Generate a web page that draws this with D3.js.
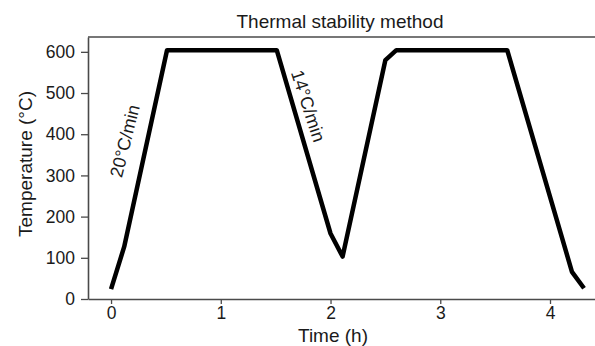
<!DOCTYPE html>
<html>
<head>
<meta charset="utf-8">
<script src="https://cdn.jsdelivr.net/npm/d3@7"></script>
<style>
  body { margin: 0; background: #fff; }
  text { font-family: "Liberation Sans", Arial, sans-serif; fill: #1a1a1a; }
</style>
</head>
<body>
<svg id="chart" width="595" height="346"></svg>
<script>
// time (h) and temperature (°C) of the heating program
var times = [0, 0.12, 0.51, 1.51, 2.0, 2.11, 2.5, 2.6, 3.61, 4.2, 4.31];
var temps = [24, 127, 604, 604, 159, 103, 580, 604, 604, 66, 26];
var xTicks = [0, 1, 2, 3, 4];
var yTicks = [0, 100, 200, 300, 400, 500, 600];

var svg = d3.select("#chart"),
	margin = {top: 37, right: 0, bottom: 47, left: 88},
	width = +svg.attr("width") - margin.left - margin.right,
	height = +svg.attr("height") - margin.top - margin.bottom;

var x = d3.scaleLinear().domain([-0.21, 4.41]).range([0, width]);
var y = d3.scaleLinear().domain([0, 636]).range([height, 0]);

var g = svg.append("g")
	.attr("transform", "translate(" + margin.left + "," + margin.top + ")");

var axisColor = "#4a4a4a";

// x axis
var gx = g.append("g")
	.attr("transform", "translate(0," + height + ")")
	.call(d3.axisBottom(x).tickValues(xTicks).tickFormat(d3.format("d"))
		.tickSize(5).tickPadding(3).tickSizeOuter(0));
gx.select(".domain").attr("stroke", axisColor).attr("stroke-width", 1.6);
gx.selectAll(".tick line").attr("stroke", axisColor).attr("stroke-width", 1.3);
gx.selectAll(".tick text").style("font-size", "17.5px").attr("fill", "#1a1a1a");

// y axis
var gy = g.append("g")
	.call(d3.axisLeft(y).tickValues(yTicks).tickFormat(d3.format("d"))
		.tickSize(7).tickPadding(6).tickSizeOuter(0));
gy.select(".domain").attr("stroke", axisColor).attr("stroke-width", 1.6);
gy.selectAll(".tick line").attr("stroke", axisColor).attr("stroke-width", 1.3);
gy.selectAll(".tick text").style("font-size", "17.5px").attr("fill", "#1a1a1a");

// top border
g.append("line")
	.attr("x1", 0).attr("x2", width)
	.attr("y1", 0).attr("y2", 0)
	.attr("stroke", axisColor).attr("stroke-width", 1.6);

// profile line
var pts = times.map(function(t, i) { return [t, temps[i]]; });
var line = d3.line()
	.x(function(d) { return x(d[0]); })
	.y(function(d) { return y(d[1]); });

g.append("path")
	.datum(pts)
	.attr("fill", "none")
	.attr("stroke", "#000")
	.attr("stroke-width", 4.5)
	.attr("stroke-linejoin", "round")
	.attr("stroke-linecap", "butt")
	.attr("d", line);

// rate labels
svg.append("text")
	.attr("transform", "translate(125,141) rotate(-76)")
	.attr("text-anchor", "middle")
	.attr("dominant-baseline", "central")
	.style("font-size", "18px")
	.text("20°C/min");

svg.append("text")
	.attr("transform", "translate(308,106) rotate(72)")
	.attr("text-anchor", "middle")
	.attr("dominant-baseline", "central")
	.style("font-size", "18px")
	.text("14°C/min");

// titles
svg.append("text")
	.attr("x", 340).attr("y", 28)
	.attr("text-anchor", "middle")
	.style("font-size", "19px")
	.text("Thermal stability method");

svg.append("text")
	.attr("x", 333).attr("y", 342)
	.attr("text-anchor", "middle")
	.style("font-size", "19px")
	.text("Time (h)");

svg.append("text")
	.attr("transform", "translate(32,164) rotate(-90)")
	.attr("text-anchor", "middle")
	.style("font-size", "19px")
	.text("Temperature (°C)");
</script>
</body>
</html>
